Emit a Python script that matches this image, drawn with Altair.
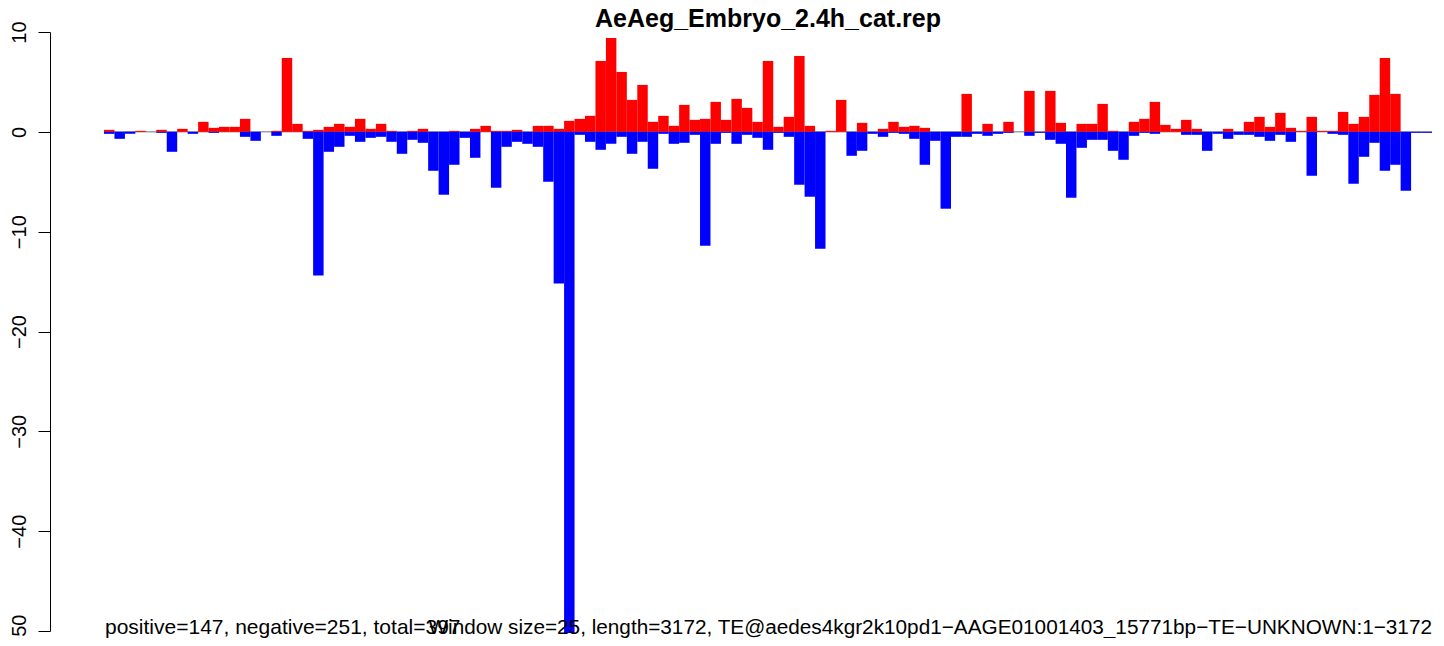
import altair as alt
import pandas as pd

TITLE = "AeAeg_Embryo_2.4h_cat.rep"
FOOT_LEFT = "positive=147, negative=251, total=397"
FOOT_RIGHT = "Window size=25, length=3172, TE@aedes4kgr2k10pd1\u2212AAGE01001403_15771bp\u2212TE\u2212UNKNOWN:1\u22123172"

# window index (25 bp windows over 3172 bp)
bins = list(range(127))

positive = [
    0.2, 0.0, 0.0, 0.1, 0.0, 0.2, 0.0, 0.3, 0.0, 1.0,
    0.4, 0.5, 0.5, 1.3, 0.0, 0.0, 0.1, 7.4, 0.8, 0.1,
    0.2, 0.5, 0.8, 0.5, 1.3, 0.3, 0.8, 0.1, 0.0, 0.1,
    0.3, 0.0, 0.0, 0.1, 0.0, 0.3, 0.6, 0.1, 0.1, 0.2,
    0.0, 0.6, 0.6, 0.3, 1.1, 1.3, 1.6, 7.1, 9.4, 6.0,
    3.2, 4.7, 1.0, 1.6, 0.6, 2.7, 1.2, 1.3, 3.0, 1.2,
    3.3, 2.4, 1.0, 7.1, 0.5, 1.5, 7.6, 0.6, 0.0, 0.1,
    3.2, 0.0, 0.9, 0.0, 0.3, 1.0, 0.5, 0.6, 0.4, 0.0,
    0.0, 0.0, 3.8, 0.0, 0.8, 0.0, 1.0, 0.0, 4.1, 0.0,
    4.1, 0.9, 0.0, 0.8, 0.8, 2.8, 0.1, 0.0, 1.0, 1.3,
    3.0, 0.7, 0.3, 1.2, 0.3, 0.0, 0.0, 0.3, 0.0, 1.0,
    1.5, 0.5, 1.9, 0.4, 0.1, 1.5, 0.1, 0.1, 2.0, 0.8,
    1.5, 3.7, 7.4, 3.8, 0.0, 0.0, 0.0,
]

negative = [
    -0.2, -0.7, -0.2, 0.0, 0.0, -0.1, -2.0, 0.0, -0.2, 0.0,
    -0.1, 0.0, 0.0, -0.5, -0.9, 0.0, -0.4, 0.0, 0.0, -0.7,
    -14.4, -2.0, -1.5, -0.4, -1.0, -0.6, -0.5, -1.0, -2.2, -0.8,
    -1.1, -3.9, -6.3, -3.3, -0.6, -2.6, 0.0, -5.6, -1.5, -1.0,
    -1.2, -1.5, -5.0, -15.2, -50.2, -0.3, -1.0, -1.8, -1.2, -0.5,
    -2.2, -1.0, -3.7, -0.2, -1.2, -1.1, -0.3, -11.4, -1.2, -0.1,
    -1.2, -0.3, -0.6, -1.8, -0.1, -0.5, -5.3, -6.5, -11.7, 0.0,
    0.0, -2.4, -1.9, -0.2, -0.5, -0.1, -0.2, -0.7, -3.3, -0.9,
    -7.7, -0.5, -0.5, -0.2, -0.4, -0.2, -0.1, 0.0, -0.4, -0.1,
    -0.8, -1.2, -6.6, -1.6, -0.8, -0.8, -1.9, -2.8, -0.4, -0.1,
    -0.2, 0.0, 0.0, -0.3, -0.3, -1.9, -0.2, -0.7, -0.3, -0.3,
    -0.5, -0.9, -0.3, -1.0, 0.0, -4.4, 0.0, -0.2, -0.3, -5.2,
    -2.5, -1.1, -3.9, -3.3, -5.9, -0.1, -0.1,
]

y_ticks = [10, 0, -10, -20, -30, -40, -50]

df = pd.DataFrame({
    "bin": bins,
    "bin_end": [b + 1 for b in bins],
    "pos": positive,
    "neg": negative,
    "zero": [0.0] * len(bins),
})
line_df = pd.DataFrame({"x0": [0], "x1": [len(bins)], "y": [0.0]})

W, H = 1328, 599
FONT = "Liberation Sans"

x_scale = alt.Scale(domain=[0, len(bins)], nice=False, zero=False)
y_scale = alt.Scale(domain=[-50, 10], nice=False, zero=False)
y_axis = alt.Axis(
    values=y_ticks, title=None, grid=False, offset=54, tickSize=12,
    labelAngle=270, labelAlign="center", labelBaseline="alphabetic",
    labelPadding=13, labelFont=FONT, labelFontSize=20, labelColor="black",
    domainColor="black", tickColor="black", domainWidth=1, tickWidth=1,
)

zero_line = alt.Chart(line_df).mark_rule(color="#a0a0a0", strokeWidth=1.5).encode(
    x=alt.X("x0:Q", scale=x_scale, axis=None),
    x2="x1:Q",
    y=alt.Y("y:Q", scale=y_scale, axis=y_axis),
)

red = alt.Chart(df).mark_rect(color="#ff0000", strokeWidth=0).encode(
    x=alt.X("bin:Q", scale=x_scale, axis=None),
    x2="bin_end:Q",
    y=alt.Y("pos:Q", scale=y_scale, axis=y_axis),
    y2="zero:Q",
)

blue = alt.Chart(df).mark_rect(color="#0000ff", strokeWidth=0).encode(
    x=alt.X("bin:Q", scale=x_scale, axis=None),
    x2="bin_end:Q",
    y=alt.Y("neg:Q", scale=y_scale, axis=y_axis),
    y2="zero:Q",
)

title = alt.Chart(pd.DataFrame({"t": [TITLE]})).mark_text(
    font=FONT, fontSize=25, fontWeight="bold", align="center",
    baseline="alphabetic", color="black",
).encode(text="t:N", x=alt.value(W / 2), y=alt.value(-5))

foot_l = alt.Chart(pd.DataFrame({"t": [FOOT_LEFT]})).mark_text(
    font=FONT, fontSize=21, align="left", baseline="alphabetic", color="black",
).encode(text="t:N", x=alt.value(1), y=alt.value(602))

foot_r = alt.Chart(pd.DataFrame({"t": [FOOT_RIGHT]})).mark_text(
    font=FONT, fontSize=20.75, align="right", baseline="alphabetic", color="black",
).encode(text="t:N", x=alt.value(W), y=alt.value(602))

chart = alt.layer(zero_line, red, blue, title, foot_l, foot_r).properties(
    width=W, height=H,
    autosize=alt.AutoSizeParams(type="none"),
    padding={"left": 96, "top": 24, "right": 4, "bottom": 7},
    background="white",
).configure_view(stroke=None)

chart.save("out.html", embed_options={"renderer": "svg", "actions": False})
